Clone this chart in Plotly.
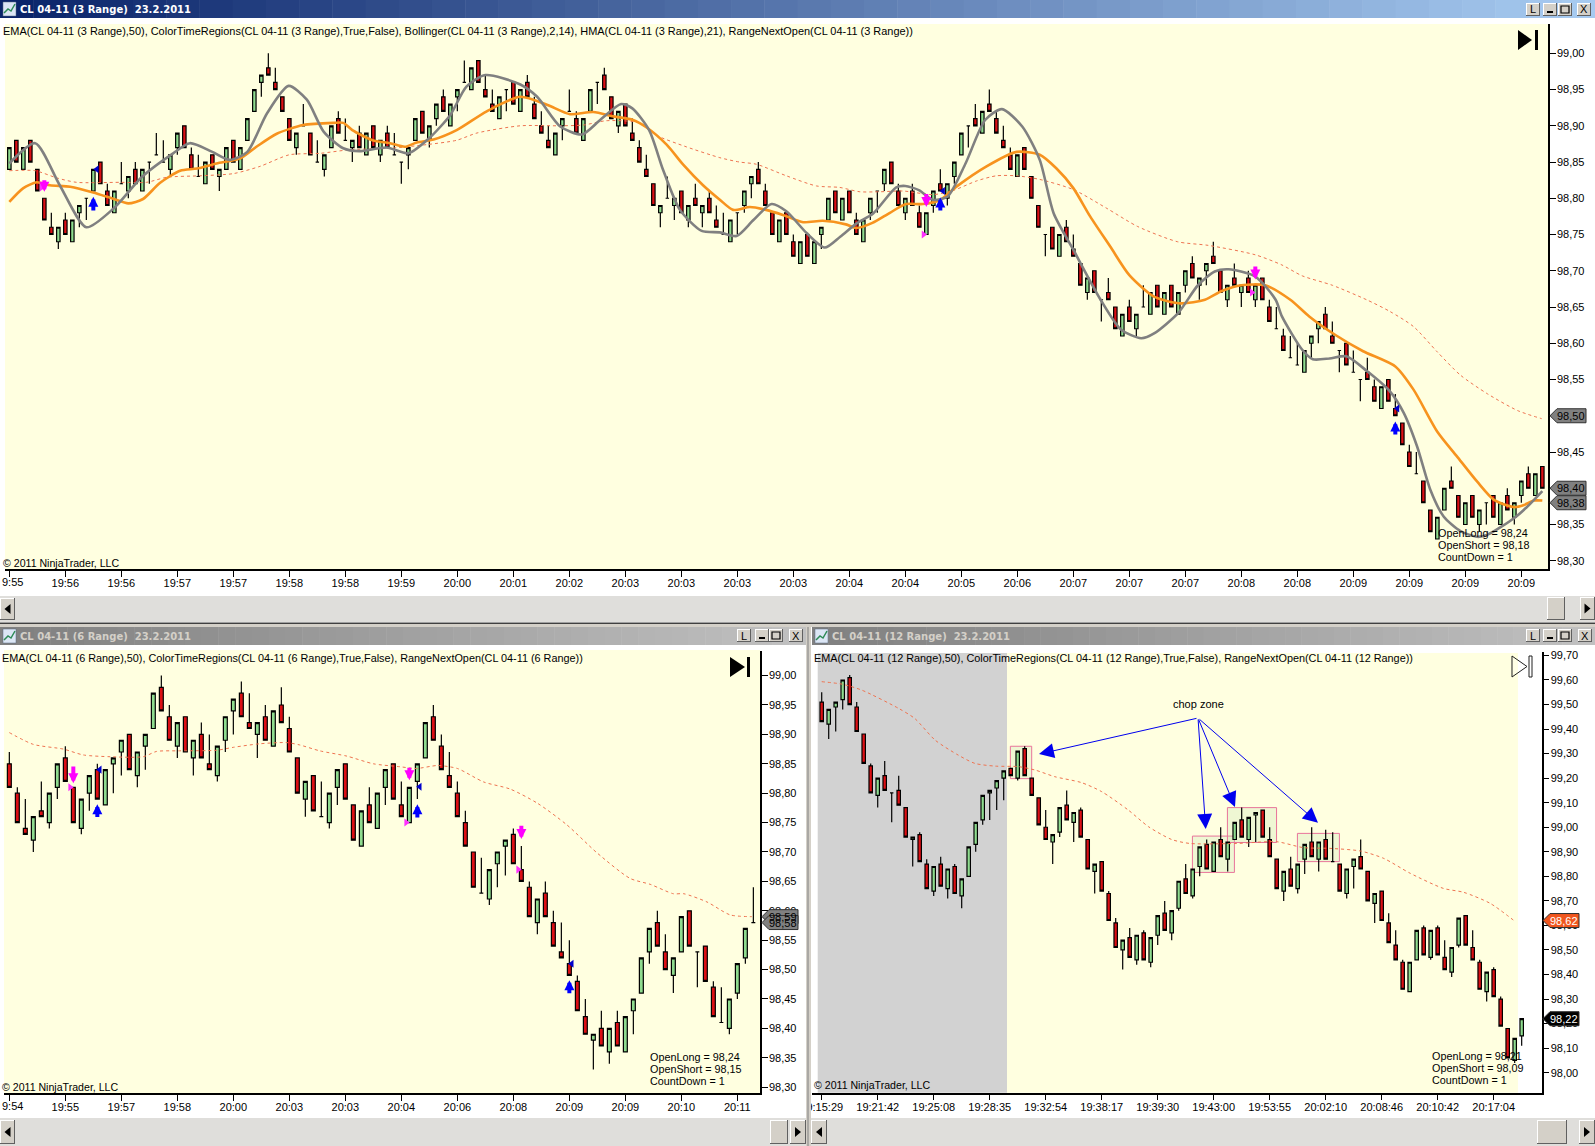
#!/usr/bin/env python3
# CL 04-11 range charts, three NinjaTrader panes on one page
import plotly.graph_objects as go

W, H = 1595, 1146
FONT = "Liberation Sans"

# ---- top pane (3 Range), prices in cents above 98,00
top_open = [
    84,88,84,88,84,80,76,74,77,74, 78,80,81,85,81,78,82,81,84,81,
    85,86,85,84,87,90,86,83,82,86, 83,84,88,84,88,92,96,98,96,94,
    91,87,90,89,85,84,87,91,88,87, 89,86,90,86,89,86,85,86,88,92,
    88,91,94,90,94,96,95,99,95,93, 91,95,96,92,96,93,90,88,86,90,
    92,91,88,92,96,97,94,90,93,89, 87,84,82,78,80,79,81,77,80,78,
    80,77,75,74,78,79,82,84,81,78, 74,78,74,71,75,71,75,77,81,77,
    81,77,74,78,81,82,85,81,78,81, 78,75,79,82,80,83,86,90,91,89,
    93,91,88,86,83,87,83,79,75,76, 72,76,73,71,67,70,66,67,65,61,
    65,62,65,64,68,64,68,64,68,71, 68,70,72,70,66,69,67,69,66,69,
    65,62,61,58,57,56,60,62,64,61, 59,60,56,55,56,54,51,55,51,49,
    45,42,41,37,33,37,41,39,35,39, 35,38,39,35,39,36,39,42,39,43,
]
top_high = [
    87,88,87,88,84,80,78,76,78,77, 79,80,84,85,82,81,85,83,85,84,
    85,89,88,86,89,90,87,86,85,86, 84,87,88,87,91,95,97,100,98,94,
    91,89,93,89,88,86,90,92,91,88, 90,89,90,88,90,89,85,87,91,92,
    90,93,95,93,95,99,98,99,97,95, 94,95,96,95,97,94,92,90,89,91,
    95,92,91,95,96,98,94,92,93,91, 88,86,82,79,83,80,81,79,82,79,
    81,79,78,77,78,81,83,85,82,78, 77,78,75,74,75,74,76,80,81,80,
    81,78,77,80,81,84,85,82,80,82, 79,78,81,84,82,85,89,90,93,92,
    95,92,90,87,86,87,83,79,75,76, 75,77,75,71,69,70,66,69,65,64,
    66,64,68,67,68,67,68,67,70,72, 69,71,74,70,68,71,68,70,68,69,
    66,65,62,61,60,59,61,63,65,63, 59,60,59,55,58,55,54,55,53,49,
    46,45,41,37,36,40,43,39,38,39, 37,38,39,38,40,38,41,43,42,43,
]
top_low = [
    84,85,84,85,81,77,75,73,75,74, 76,77,81,82,79,78,82,80,82,81,
    82,86,85,83,86,87,84,83,82,84, 81,84,85,84,88,92,94,97,95,92,
    88,86,90,86,85,83,87,89,88,85, 87,86,87,85,87,86,82,84,88,89,
    87,90,92,90,92,96,95,96,94,92, 91,92,93,92,94,91,89,87,86,88,
    92,89,88,92,93,95,91,89,90,88, 85,83,79,76,80,77,78,76,79,76,
    78,76,75,74,75,78,80,82,79,75, 74,75,72,71,72,71,73,77,78,77,
    78,75,74,77,78,81,82,79,77,79, 76,75,78,81,79,82,86,87,90,89,
    92,89,87,84,83,84,80,76,72,73, 72,74,72,68,66,67,63,66,62,61,
    63,61,65,64,65,64,65,64,67,69, 66,68,71,67,65,68,65,67,65,66,
    63,62,59,58,57,56,58,60,62,60, 56,57,56,52,55,52,51,52,50,46,
    43,42,38,34,33,37,40,36,35,36, 34,35,36,35,37,35,38,40,39,40,
]
top_close = [
    87,85,87,85,81,77,75,76,75,77, 79,80,84,82,79,81,82,83,82,84,
    85,86,85,86,89,87,84,83,85,84, 84,87,85,87,91,95,97,97,95,92,
    88,89,90,86,85,86,90,89,88,88, 87,89,87,88,87,86,85,87,91,89,
    90,93,92,93,95,96,98,96,94,92, 94,95,93,95,94,91,89,87,89,91,
    92,89,91,95,96,95,91,92,90,88, 85,83,79,79,80,80,78,79,79,79,
    78,76,75,77,78,81,83,82,79,75, 77,75,72,74,72,74,76,80,78,80,
    78,75,77,80,81,84,82,79,80,79, 76,78,81,81,82,85,89,90,90,92,
    92,89,87,84,86,84,80,76,75,73, 75,74,72,68,69,67,66,66,62,64,
    63,64,65,67,65,67,65,67,70,69, 69,71,71,67,68,68,68,67,68,66,
    63,62,59,58,57,59,61,63,62,60, 59,57,56,55,55,52,54,52,50,46,
    43,42,38,34,36,40,40,36,38,36, 37,38,36,38,37,38,41,40,42,40,
]

# HMA, read at the bends of the line
top_hma_x = [1,4.7,8.2,12,15.9,20,24.4,26.8,30,32.5,35,37.8,40.9,43.5,45.9,48.7,51,54.9,58,61,64,66.3,69,74,
             76.4,79.7,82.8,85.4,88.4,90,92.4,94.4,96.8,99.9,102.5,104.9,107.3,109.9,112,114.9,117.5,119.7,122,124.4,
             127.7,129,131,132.9,135,137.6,140.4,142.8,145.7,148.2,150.2,153,156.9,159.8,162.7,164.6,168,170.8,173.2,
             175.2,179,181.9,182.8,185.7,187.2,189.6,192,194.9,198.2,200.2,202.1,204,205.9,208.3,210.7,212.2,216,217.9,220]
top_hma_y = [84.8,87.6,81.8,76,78.6,83,86.2,87.6,86.4,85.3,86.4,91.7,95.5,93.6,89.2,86.9,86.5,87,86.2,88.3,91.5,95.4,97,95.7,
             94,89.9,88.8,90.8,93,92.4,89.4,83.9,78.4,75.5,75.3,74.8,77,79.2,78.2,75.2,73.2,74.7,76.5,77.9,
             81.5,81.7,81.1,79.8,80.2,84.8,90.8,92.3,89.9,85.3,77.9,72.9,66,61.9,60.7,61.4,64.2,68,69.9,
             70.2,69.2,66,63.7,59.1,57.8,57.9,58.2,56.2,53.4,50.4,45.8,39.8,36.1,34.1,33.3,33.6,35.9,37.5,39.6]

# Bollinger middle band
top_bb_x = [1,3,4.9,6.8,9.7,13,15.9,18,20.1,22.5,25.4,27.8,30.6,34,36.3,39.2,43,47.3,48.7,50,52.9,55.4,57.5,59.2,61.6,64.9,69.2,74,
            77.8,81.1,84.4,87.3,90.1,92,94.9,97.3,100.1,102.5,104.4,106.8,109.1,111.5,114.4,117.2,120.5,122,124.3,126.8,129.1,131.5,
            134,136.3,140.6,144.9,148.2,150.6,153,155.4,158.3,161,164.6,168.4,171.8,174.2,177,180.4,184,186.7,190.5,194.4,199,201.6,
            205,207.8,210.7,213.1,216,217.4,218.8,220]
top_bb_y = [79.5,81.4,82.2,81.8,81.6,80.8,79.9,79.3,79.9,82.1,83.8,84.1,84.8,85.5,87.1,88.9,90.1,90.4,90.4,89.4,88,87.6,87.1,87.7,88.1,89.4,92,94,
            92.9,91.6,91.9,91.3,90.8,89.8,87.4,84.6,81.8,79.8,78.4,78.8,78.4,77.7,76.7,76.9,76.4,75.9,76.6,78,79.2,79.2,
            79.8,81.6,84.4,86.4,86,84.1,81.4,77.5,73.3,69.4,66.4,65.5,66,67.2,68,68,66,63.7,61.1,58.9,56.8,53.6,
            47.8,44.4,40.9,38.4,37.4,37.7,38.3,38.3]

# EMA 50
top_ema_x = [1,4.7,7.8,10.6,16.8,20.6,23.5,28.2,33,36.8,41,45.4,49.7,55.4,60.6,64.9,67.8,74,79.2,83,86.3,91,93.4,97.7,102.5,105.3,107.7,
             112,116.3,119.6,122.5,125.4,128.7,133,135.9,139.2,142,144.9,148.2,153,157.8,162.2,167.9,172.3,179,182.8,185.7,190,194.9,
             198.2,201.6,205,208.3,212.2,216.5,219.9]
top_ema_y = [83.8,83.8,82.8,82.2,82.2,82.2,82.9,83.1,83.4,84.4,86,86.2,86.7,86.9,87.4,88,89,90,90,90.1,90.7,90.4,88.7,87.1,85.6,85,84.7,
             83.1,81.7,81.5,80.9,80.9,81,80.5,81.1,82.4,83.1,83.1,82.6,81.2,78.6,76.1,74,73.5,72.2,70.8,69.3,68,66,
             64.4,62.3,58.8,55.6,53,50.7,49.6]

top_time_bars = [1 + 8 * n for n in range(28)]
top_times = ["19:55","19:56","19:56","19:57","19:57","19:58","19:58","19:59","20:00","20:01","20:02","20:03","20:03","20:03",
             "20:03","20:04","20:04","20:05","20:06","20:07","20:07","20:07","20:08","20:08","20:09","20:09","20:09","20:09"]

# arrows: bar, tail, tip
top_down_arrows = [(6, 82.7, 80.9), (132, 80.8, 78.8), (179, 70.8, 68.8)]
top_up_arrows = [(13, 78.1, 80.2), (134, 78.1, 80.1), (199, 47.2, 49.2)]
top_left_tri = [(13.5, 84), (134.4, 81), (199.3, 51)]
top_right_tri = [(5.6, 81.5), (131.6, 75), (178.5, 67)]

# ---- lower left pane (6 Range)
mid_open = [
    85,80,74,72,77,75,81,86,81,74, 80,84,78,85,87,90,83,88,91,98,
    93,88,93,86,90,85,83,89,94,97, 92,90,93,88,95,91,86,79,83,76,
    75,81,85,78,71,78,74,81,85,78, 75,82,86,93,88,83,80,75,70,63,
    62,68,71,73,67,64,58,63,58,53, 51,48,42,38,40,36,41,36,43,46,
    53,58,53,49,53,60,53,54,47,41, 40,46,52,58,
]
mid_high = [
    87,81,79,76,82,80,85,88,81,79, 83,85,84,86,89,90,87,90,97,100,
    95,92,93,89,92,90,88,93,96,99, 97,92,95,94,98,93,86,82,83,82,
    80,84,85,78,77,81,80,84,85,82, 81,85,92,95,90,87,82,77,70,69,
    67,70,72,74,71,65,62,65,60,58, 55,49,45,39,43,40,43,42,45,52,
    57,60,56,52,59,60,53,54,48,47, 45,51,57,64,
]
mid_low = [
    81,75,73,70,76,74,79,82,75,73, 77,79,78,80,83,84,81,84,91,94,
    89,86,87,83,86,84,82,87,90,93, 91,86,89,88,92,87,80,76,77,76,
    74,78,79,72,71,75,74,78,79,76, 75,79,86,89,84,81,76,71,64,63,
    61,64,66,68,65,59,56,59,54,52, 49,43,39,33,37,34,37,36,39,46,
    51,54,50,46,53,54,47,48,42,41, 39,45,51,58,
]
mid_close = [
    81,75,73,76,76,80,85,82,75,79, 83,79,84,86,89,84,87,90,97,94,
    89,92,87,89,86,84,88,93,96,93, 91,92,89,94,92,87,80,82,77,76,
    80,84,79,72,77,75,80,84,79,76, 81,85,92,89,84,81,76,71,64,63,
    67,70,72,68,65,59,62,59,54,52, 49,43,39,39,37,40,37,42,45,52,
    57,54,50,52,59,54,53,48,42,41, 45,51,57,58,
]
mid_ema_x = [1,4,7.75,10.25,13.6,17.75,19.4,22.3,26.9,29,32.3,35.7,37.3,39.8,43.2,46.5,49.8,51.9,54.5,57,
             60.3,63.6,67,70.7,74.5,78.6,81.1,84,85.3,88.2,91.1,93.8]
mid_ema_y = [90.3,88.3,87.5,86.5,86.2,86.2,87.1,87.2,87.3,87.8,88.4,88.6,88.2,87.2,86.3,85,84.5,84.2,84.7,84.2,
             81.9,80.7,78.3,74.6,69.8,65.5,64.5,62.9,62.9,61.5,59.3,59]
mid_time_bars = [1 + 7 * n for n in range(14)]
mid_times = ["19:54","19:55","19:57","19:58","20:00","20:03","20:03","20:04","20:06","20:08","20:09","20:09","20:10","20:11"]
mid_down_arrows = [(9, 84.8, 81.7), (51, 84.6, 82.2), (65, 74.7, 72.2)]
mid_up_arrows = [(12, 75.7, 78.1), (52, 75.6, 78.1), (71, 45.7, 48.2)]
mid_left_tri = [(12.3, 84), (52.3, 81.1), (71.3, 51)]
mid_right_tri = [(8.6, 81), (50.6, 75), (64.6, 67)]

# ---- lower right pane (12 Range)
low_open = [
    151,142,149,152,161,149,138,125,113,121, 114,115,108,95,97,85,74,85,75,84,
    72,80,93,103,114,116,120,124,120,132, 120,112,100,94,98,109,102,107,95,82,
    86,73,61,50,55,46,57,45,56,65, 57,67,79,72,84,93,82,95,87,95,
    103,95,105,107,95,87,74,83,75,87, 94,87,95,86,85,73,84,88,82,69,
    74,61,52,45,33,46,59,47,59,47, 41,52,64,51,45,33,42,30,18,5,
    15,
]
low_high = [
    155,148,151,160,162,151,138,126,120,127, 114,121,108,96,98,87,84,88,83,85,
    79,92,102,113,115,119,123,124,131,133, 120,112,107,97,108,115,106,108,95,85,
    86,74,63,54,59,56,58,55,64,70, 66,78,85,83,92,95,94,100,94,102,
    108,104,106,107,100,87,82,88,85,93, 100,94,99,98,85,83,87,95,82,73,
    74,65,58,46,45,58,60,58,60,54, 51,63,64,58,46,41,43,31,18,14,
    22,
]
low_low = [
    143,136,139,148,150,139,126,114,108,115, 102,109,96,84,86,75,72,76,71,73,
    67,80,90,101,103,107,111,121,119,121, 113,101,95,85,96,103,94,96,83,73,
    74,62,51,42,47,44,46,43,52,58, 54,66,73,71,80,83,82,88,82,95,
    96,92,94,96,88,75,70,76,73,81, 88,82,87,86,74,71,75,83,70,61,
    62,53,46,34,33,46,48,46,48,42, 39,51,52,46,34,29,31,19,6,4,
    11,
]
low_close = [
    143,148,151,160,150,139,126,114,120,115, 114,109,96,96,86,75,84,76,83,73,
    79,92,102,113,115,119,123,121,131,121, 113,101,95,97,108,103,106,96,83,85,
    74,62,51,54,47,56,46,55,64,58, 66,78,73,83,92,83,94,88,94,102,
    96,104,106,96,88,75,82,76,85,93, 88,94,87,86,74,83,87,83,70,73,
    62,53,46,34,45,58,48,58,48,42, 51,63,52,46,34,41,31,19,6,14,
    22,
]
low_ema_x = [1,3.9,6.7,12,14.3,17.2,20.5,22.9,25.8,29.1,31.5,34.3,38.1,41,44.8,47.7,51,53.6,60.3,66,69.8,73.6,78,81.3,85.1,89.8,92.7,96.5,99.8]
low_ema_y = [159.3,158.3,155.9,148.4,144.3,135.5,129.4,126,124.9,124.7,123.3,120.6,118.2,114.5,107,100.2,95,93.4,93.4,94.1,91.7,91.4,90.3,87.3,81.2,75.1,73.5,69,62.2]
low_time_bars = [1 + 8 * n for n in range(13)]
low_times = ["19:15:29","19:21:42","19:25:08","19:28:35","19:32:54","19:38:17","19:39:30","19:43:00","19:53:55","20:02:10","20:08:46","20:10:42","20:17:04"]

# grey session block and the end of the coloured session, in bars
region_bars = [0.43, 27.47, 100.47]
# chop zone boxes: first bar, last bar, low, high
chop_boxes = [(27.95, 31, 119.8, 133), (53.96, 59.96, 81.6, 96.4), (58.96, 65.98, 93.8, 108), (68.96, 74.96, 86, 97.5)]
chop_apex = (54.76, 144.5)
chop_tips = [(32.04, 129.8), (55.86, 99.3), (60.04, 108.3), (71.9, 101.8)]
chop_label = (54.76, 150.2)

GREEN = "#8fdc8f"
RED = "#dc0f14"
YELLOW = "#ffffe0"


def px(x):
    return x / W


def py(y):
    return 1 - y / H


def price(vals):
    return [98 + v / 100 for v in vals]


fig = go.Figure()
shapes = []
notes = []


def rect(x0, y0, x1, y1, color, layer="below", line=None):
    shapes.append(dict(type="rect", xref="paper", yref="paper", x0=px(x0), x1=px(x1), y0=py(y0), y1=py(y1),
                       fillcolor=color, layer=layer, line=dict(width=0) if line is None else line))


def path(points, fill=None, line=None, layer="above"):
    d = "M " + " L ".join(f"{px(x):.5f} {py(y):.5f}" for x, y in points)
    if fill:
        d += " Z"
    shapes.append(dict(type="path", xref="paper", yref="paper", path=d, fillcolor=fill or "rgba(0,0,0,0)",
                       layer=layer, line=line or dict(width=0)))


def label(x, y, text, size=10.8, color="black", anchor="left", font=FONT):
    notes.append(dict(xref="paper", yref="paper", x=px(x), y=py(y), text=text, showarrow=False, xanchor=anchor,
                      yanchor="middle", borderpad=0, font=dict(family=font, size=size, color=color)))


def candles(o, h, l, c, xa, ya):
    fig.add_trace(go.Candlestick(
        x=list(range(1, len(o) + 1)), open=price(o), high=price(h), low=price(l), close=price(c),
        xaxis=xa, yaxis=ya, whiskerwidth=0, showlegend=False,
        increasing=dict(line=dict(color="black", width=1.2), fillcolor=GREEN),
        decreasing=dict(line=dict(color="black", width=1.2), fillcolor=RED),
    ))


def curve(xs, ys, xa, ya, color, width, dash="solid"):
    fig.add_trace(go.Scatter(x=xs, y=price(ys), xaxis=xa, yaxis=ya, mode="lines", showlegend=False,
                             line=dict(color=color, width=width, shape="spline", smoothing=0.7, dash=dash)))


def signal_marks(downs, ups, lefts, rights, xa, ya):
    for bars, color in ((downs, "#ff00ff"), (ups, "#0000ff")):
        for bar, tail, tip in bars:
            notes.append(dict(x=bar, y=98 + tip / 100, ax=bar, ay=98 + tail / 100, xref=xa, yref=ya, axref=xa, ayref=ya,
                              text="", showarrow=True, arrowhead=2, arrowsize=0.5, arrowwidth=4, arrowcolor=color))
    fig.add_trace(go.Scatter(x=[p[0] for p in lefts], y=price([p[1] for p in lefts]), xaxis=xa, yaxis=ya, mode="markers",
                             showlegend=False, marker=dict(symbol="triangle-left", size=7, color="#0000cc")))
    fig.add_trace(go.Scatter(x=[p[0] for p in rights], y=price([p[1] for p in rights]), xaxis=xa, yaxis=ya, mode="markers",
                             showlegend=False, marker=dict(symbol="triangle-right", size=7, color="#ff30ff")))


def price_tag(ya, value, x_left, fill, text, text_color):
    shapes.append(dict(type="path", xref="paper", yref=ya, xsizemode="pixel", ysizemode="pixel",
                       xanchor=px(x_left), yanchor=value, path="M 0 0 L 7 7 L 36 7 L 36 -7 L 7 -7 Z",
                       fillcolor=fill, line=dict(color="#303030", width=1), layer="above"))
    notes.append(dict(xref="paper", yref=ya, x=px(x_left + 6), y=value, text=text, showarrow=False, xanchor="left",
                      yanchor="middle", borderpad=0, font=dict(family=FONT, size=11, color=text_color)))


def title_bar(x0, x1, y0, y1, left, right, text, text_color):
    n = 48
    step = (x1 - x0) / n
    for k in range(n):
        mix = k / (n - 1)
        col = tuple(round(a + (b - a) * mix) for a, b in zip(left, right))
        rect(x0 + k * step, y0, x0 + (k + 1) * step + 0.5, y1, f"rgb{col}")
    # little chart icon
    rect(x0 + 3, y0 + 2, x0 + 16, y1 - 2, "#dce6f5", line=dict(color="#5a6a80", width=0.5))
    path([(x0 + 4, y1 - 5), (x0 + 8, y0 + 9), (x0 + 11, y0 + 11), (x0 + 15, y0 + 4)], line=dict(color="#2e8b57", width=1.5))
    label(x0 + 19, (y0 + y1) / 2, text, size=10, color=text_color, font="DejaVu Sans, sans-serif")


def button(x0, y0, x1, y1):
    rect(x0, y0, x1, y1, "#d4d0c8")
    rect(x0, y0, x1, y0 + 1, "#ffffff")
    rect(x0, y0, x0 + 1, y1, "#ffffff")
    rect(x0, y1 - 1, x1, y1, "#606060")
    rect(x1 - 1, y0, x1, y1, "#606060")


def window_buttons(xl, xmin, xmax, xclose, y0, y1):
    for x0, glyph in ((xl, "L"), (xmin, "min"), (xmax, "max"), (xclose, "X")):
        x1 = x0 + 14
        button(x0, y0, x1, y1)
        if glyph in ("L", "X"):
            label((x0 + x1) / 2, (y0 + y1) / 2, glyph, size=11, anchor="center")
        elif glyph == "min":
            rect(x0 + 4, y1 - 5, x0 + 10, y1 - 3, "black")
        else:
            rect(x0 + 3, y0 + 3, x1 - 3, y1 - 3, "rgba(0,0,0,0)", line=dict(color="black", width=1.2))


def scroll_arrow(x0, y0, x1, y1, direction):
    cx, cy = (x0 + x1) / 2, (y0 + y1) / 2
    d = 3 * direction
    path([(cx - d, cy - 5), (cx + d, cy), (cx - d, cy + 5)], fill="black")


# ---- window furniture, drawn first so it sits below everything
rect(0, 0, W, H, "#ffffff")
title_bar(0, W, 0, 18, (10, 36, 106), (166, 202, 240), "<b>CL 04-11 (3 Range)  23.2.2011</b>", "white")
window_buttons(1526, 1543, 1558, 1577, 3, 16)
rect(5, 24, 1548, 569, YELLOW)

SCROLL = "#dfdedb"
rect(0, 596, W, 622, SCROLL)
button(0, 598, 15, 620)
scroll_arrow(0, 598, 15, 620, -1)
button(1547, 597, 1565, 620)
button(1580, 597, W, 620)
scroll_arrow(1580, 597, W, 620, 1)
rect(0, 622.5, W, 624, "#404040")
rect(0, 624, W, 627, "#d4d0c8")

title_bar(0, 806, 627, 645, (128, 128, 128), (192, 192, 192), "<b>CL 04-11 (6 Range)  23.2.2011</b>", "#d4d0c8")
window_buttons(737, 755, 769, 789, 629, 642)
title_bar(812, W, 627, 645, (128, 128, 128), (192, 192, 192), "<b>CL 04-11 (12 Range)  23.2.2011</b>", "#d4d0c8")
window_buttons(1526, 1543, 1558, 1578, 629, 642)
rect(4, 650, 760, 1093.3, YELLOW)

rect(0, 1118, 806, H, SCROLL)
button(0, 1120, 15, 1144)
scroll_arrow(0, 1120, 15, 1144, -1)
button(770, 1120, 788, 1144)
button(790, 1120, 806, 1144)
scroll_arrow(790, 1120, 806, 1144, 1)
rect(811, 1118, W, H, SCROLL)
button(811, 1120, 827, 1144)
scroll_arrow(811, 1120, 827, 1144, -1)
button(1537, 1120, 1567, 1144)
button(1579, 1120, W, 1144)
scroll_arrow(1579, 1120, W, 1144, 1)

# session colours of the 12 range pane, on its own bar axis
shapes.append(dict(type="rect", xref="x3", yref="paper", x0=region_bars[1], x1=region_bars[2], y0=py(1092.7), y1=py(653),
                   fillcolor=YELLOW, layer="below", line=dict(width=0)))
shapes.append(dict(type="rect", xref="x3", yref="paper", x0=region_bars[0], x1=region_bars[1], y0=py(1092.7), y1=py(653),
                   fillcolor="#d2d2d2", layer="below", line=dict(width=0)))

# ---- charts
candles(top_open, top_high, top_low, top_close, "x", "y")
curve(top_ema_x, top_ema_y, "x", "y", "#ee7350", 1, "dot")
curve(top_bb_x, top_bb_y, "x", "y", "#f7931e", 2.6)
curve(top_hma_x, top_hma_y, "x", "y", "#808080", 2.6)
signal_marks(top_down_arrows, top_up_arrows, top_left_tri, top_right_tri, "x", "y")

candles(mid_open, mid_high, mid_low, mid_close, "x2", "y2")
curve(mid_ema_x, mid_ema_y, "x2", "y2", "#ee7350", 1, "dot")
signal_marks(mid_down_arrows, mid_up_arrows, mid_left_tri, mid_right_tri, "x2", "y2")

for b0, b1, lo, hi in chop_boxes:
    shapes.append(dict(type="rect", xref="x3", yref="y3", x0=b0, x1=b1, y0=98 + lo / 100, y1=98 + hi / 100, layer="below",
                       fillcolor="rgba(190,225,170,0.25)", line=dict(color="#e8749a", width=1)))
candles(low_open, low_high, low_low, low_close, "x3", "y3")
curve(low_ema_x, low_ema_y, "x3", "y3", "#ee7350", 1, "dot")

for tip_x, tip_y in chop_tips:
    notes.append(dict(x=tip_x, y=98 + tip_y / 100, ax=chop_apex[0], ay=98 + chop_apex[1] / 100, xref="x3", yref="y3",
                      axref="x3", ayref="y3", text="", showarrow=True, arrowhead=2, arrowsize=3, arrowwidth=1,
                      arrowcolor="#0000ee"))
notes.append(dict(x=chop_label[0], y=98 + chop_label[1] / 100, xref="x3", yref="y3", text="chop zone", showarrow=False,
                  font=dict(family=FONT, size=11, color="black")))


def axis_x(domain, rng, bars, times):
    return dict(domain=domain, range=rng, tickmode="array", tickvals=bars, ticktext=times, ticks="outside", ticklen=6,
                tickwidth=1, tickcolor="black", tickangle=0, showgrid=False, zeroline=False, showline=True, linecolor="black",
                linewidth=1.5, rangeslider=dict(visible=False), ticklabelstandoff=-3,
                tickfont=dict(family=FONT, size=11, color="black"))


def axis_y(domain, rng, anchor, first, step):
    return dict(domain=domain, range=rng, anchor=anchor, side="right", tickmode="linear", tick0=first, dtick=step,
                tickformat=".2f", ticks="outside", ticklen=6, tickwidth=1, tickcolor="black", showgrid=False, zeroline=False,
                showline=True, linecolor="black", linewidth=1.5, ticklabelstandoff=-1,
                tickfont=dict(family=FONT, size=11, color="black"))


fig.update_layout(
    width=W, height=H, margin=dict(l=0, r=0, t=0, b=0, autoexpand=False), paper_bgcolor="white", plot_bgcolor="rgba(0,0,0,0)",
    separators=", ", showlegend=False, hovermode=False, dragmode=False,
    xaxis=dict(axis_x([px(5), px(1548)], [0.381, 220.81], top_time_bars, top_times), anchor="y"),
    yaxis=axis_y([py(569), py(24)], [98.2886, 99.0404], "x", 98.30, 0.05),
    xaxis2=dict(axis_x([px(4), px(760)], [0.334, 94.83], mid_time_bars, mid_times), anchor="y2"),
    yaxis2=axis_y([py(1093.3), py(651)], [98.2896, 99.0418], "x2", 98.30, 0.05),
    xaxis3=dict(axis_x([px(811.7), px(1541.7)], [-0.43, 103.86], low_time_bars, low_times), anchor="y3"),
    yaxis3=axis_y([py(1092.7), py(652)], [97.9185, 99.714], "x3", 98.00, 0.10),
)

# ---- texts in the panes
label(2, 31, "EMA(CL 04-11 (3 Range),50), ColorTimeRegions(CL 04-11 (3 Range),True,False), Bollinger(CL 04-11 (3 Range),2,14), "
             "HMA(CL 04-11 (3 Range),21), RangeNextOpen(CL 04-11 (3 Range))", size=10.95)
label(1, 658, "EMA(CL 04-11 (6 Range),50), ColorTimeRegions(CL 04-11 (6 Range),True,False), RangeNextOpen(CL 04-11 (6 Range))", size=10.85)
label(813, 658, "EMA(CL 04-11 (12 Range),50), ColorTimeRegions(CL 04-11 (12 Range),True,False), RangeNextOpen(CL 04-11 (12 Range))", size=10.85)
label(2, 563, "© 2011 NinjaTrader, LLC", size=10.6)
label(1, 1087, "© 2011 NinjaTrader, LLC", size=10.6)
label(813, 1085, "© 2011 NinjaTrader, LLC", size=10.6)
# the first time label of the two left panes runs off the page edge
label(1, 582, "9:55", size=11)
label(1, 1106, "9:54", size=11)
for x, ys, lines in (
    (1437, (533, 545, 557), ("OpenLong = 98,24", "OpenShort = 98,18", "CountDown = 1")),
    (648.7, (1057, 1069, 1081), ("OpenLong = 98,24", "OpenShort = 98,15", "CountDown = 1")),
    (1430.7, (1056, 1068, 1080), ("OpenLong = 98,21", "OpenShort = 98,09", "CountDown = 1")),
):
    for y, text in zip(ys, lines):
        label(x, y, text)

# ---- price tags on the axes
price_tag("y", 98.50, 1550, "#808080", "98,50", "black")
price_tag("y", 98.40, 1550, "#808080", "98,40", "black")
price_tag("y", 98.38, 1550, "#808080", "98,38", "black")
price_tag("y2", 98.59, 762, "#808080", "98,59", "black")
price_tag("y2", 98.58, 762, "#808080", "98,58", "black")
price_tag("y3", 98.62, 1543, "#f0561e", "98,62", "white")
price_tag("y3", 98.22, 1543, "#000000", "98,22", "white")

# ---- jump-to-end icons
path([(1518, 30), (1532, 40), (1518, 50)], fill="black")
rect(1535, 30, 1538, 50, "black", layer="above")
path([(730, 657), (745, 667), (730, 677)], fill="black")
rect(747, 657, 750, 677, "black", layer="above")
path([(1512, 656), (1527, 666.5), (1512, 677)], fill="rgba(255,255,255,0.2)", line=dict(color="#202020", width=1))
rect(1529, 656, 1532, 677, "white", layer="above", line=dict(color="#202020", width=1))

# pane divider hides the start of the first time label of the 12 range pane
rect(786, 1094, 811, 1118, "white", layer="above")
rect(806, 627, 811, H, "#d4d0c8", layer="above")
rect(807.5, 627, 808.5, H, "#808080", layer="above")

fig.update_layout(shapes=shapes, annotations=notes)
fig.write_html("out.html", config=dict(displayModeBar=False), post_script="document.body.style.margin='0';")
